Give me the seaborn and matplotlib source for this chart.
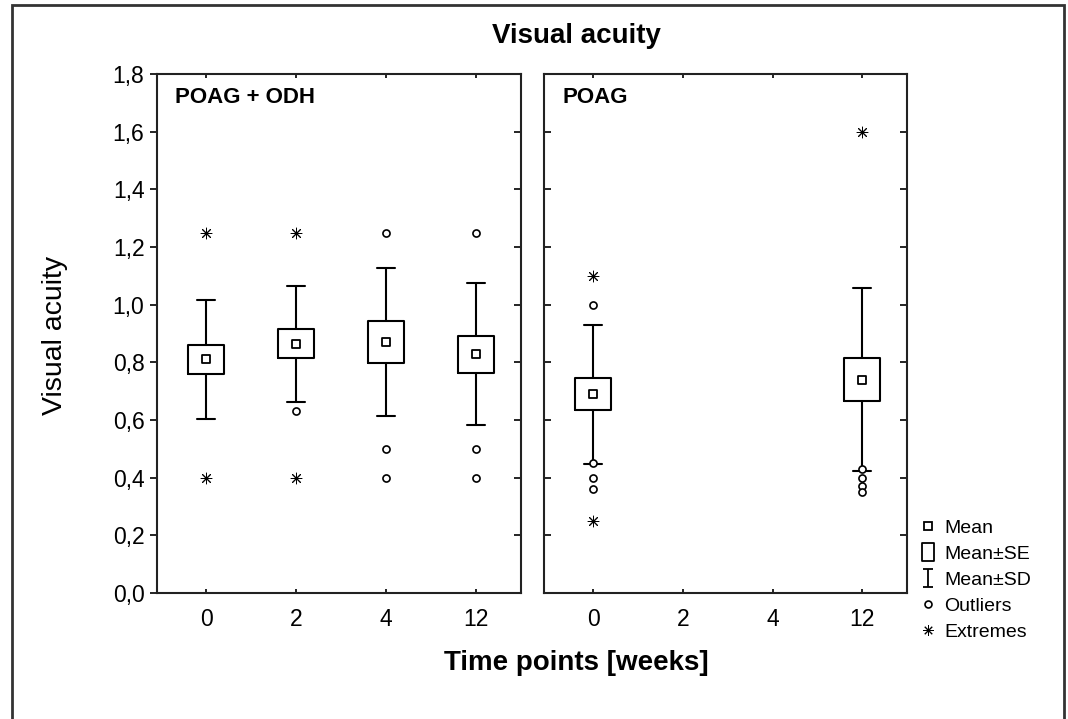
import pandas as pd
import matplotlib.pyplot as plt
import seaborn as sns
from matplotlib.lines import Line2D
from matplotlib.patches import Rectangle
from matplotlib.path import Path

sns.set_style("ticks")
plt.rcParams['font.family'] = ['Liberation Sans Narrow', 'Liberation Sans', 'DejaVu Sans']
plt.rcParams['text.color'] = 'black'
plt.rcParams['xtick.color'] = 'black'
plt.rcParams['ytick.color'] = 'black'
plt.rcParams['axes.labelcolor'] = 'black'

# Datos
time_labels = ["0", "2", "4", "12"]

# POAG + ODH
odh_times = ["0", "2", "4", "12"]
odh_mean = [0.810, 0.865, 0.870, 0.828]
odh_se = [0.050, 0.051, 0.072, 0.064]
odh_sd = [0.205, 0.201, 0.257, 0.247]
odh_out_time = ["2", "4", "4", "4", "12", "12", "12"]
odh_out_val = [0.63, 1.25, 0.50, 0.40, 1.25, 0.50, 0.40]
odh_ext_time = ["0", "0", "2", "2"]
odh_ext_val = [1.25, 0.40, 1.25, 0.40]

# POAG
poag_times = ["0", "12"]
poag_mean = [0.689, 0.740]
poag_se = [0.056, 0.075]
poag_sd = [0.241, 0.318]
poag_out_time = ["0", "0", "0", "0", "12", "12", "12", "12"]
poag_out_val = [1.00, 0.45, 0.40, 0.36, 0.43, 0.40, 0.37, 0.35]
poag_ext_time = ["0", "0", "12"]
poag_ext_val = [1.10, 0.25, 1.60]

W, H = 1068, 719
fig = plt.figure(figsize=(W / 100, H / 100), dpi=100)
ax1 = fig.add_axes([157 / W, 1 - 593 / H, (521 - 157) / W, (593 - 74) / H])
ax2 = fig.add_axes([544 / W, 1 - 593 / H, (907 - 544) / W, (593 - 74) / H])

tick_font = 16.5
asterisk = (8, 2, 0)


def panel(ax, times, mean, se, sd, out_t, out_v, ext_t, ext_v, label):
    pos = [time_labels.index(t) for t in times]
    stats = []
    for m, s_e, s_d in zip(mean, se, sd):
        stats.append(dict(med=m, q1=m - s_e, q3=m + s_e, whislo=m - s_d, whishi=m + s_d, fliers=[]))
    line = dict(color="black", linewidth=1.5)
    ax.bxp(stats, positions=pos, widths=0.4, capwidths=0.2, showfliers=False,
           boxprops=line, whiskerprops=line, capprops=line,
           medianprops=dict(linewidth=0), manage_ticks=False)

    df_mean = pd.DataFrame({"x": pos, "y": mean})
    df_out = pd.DataFrame({"x": [time_labels.index(t) for t in out_t], "y": out_v})
    df_ext = pd.DataFrame({"x": [time_labels.index(t) for t in ext_t], "y": ext_v})
    sns.scatterplot(data=df_mean, x="x", y="y", ax=ax, marker="s", s=36,
                    facecolor="white", edgecolor="black", linewidth=1.3, zorder=5)
    sns.scatterplot(data=df_out, x="x", y="y", ax=ax, marker="o", s=26,
                    facecolor="white", edgecolor="black", linewidth=1.2, zorder=5)
    sns.scatterplot(data=df_ext, x="x", y="y", ax=ax, marker=asterisk, s=60,
                    color="black", linewidth=0.7, zorder=5)

    ax.set_xlim(-0.55, 3.5)
    ax.set_ylim(0, 1.8)
    ax.set_xticks(range(len(time_labels)))
    ax.set_xticklabels(time_labels, fontsize=tick_font)
    ax.set_yticks([i / 5 for i in range(10)])
    ax.set_xlabel("")
    ax.set_ylabel("")
    for sp in ax.spines.values():
        sp.set_visible(True)
        sp.set_linewidth(1.5)
        sp.set_color("#222222")
    ax.tick_params(axis="x", direction="in", length=3, width=1.2, pad=11, bottom=True, top=True)
    ax.text(0.05, 0.955, label, transform=ax.transAxes, fontsize=16, fontweight="bold",
            ha="left", va="center")


panel(ax1, odh_times, odh_mean, odh_se, odh_sd, odh_out_time, odh_out_val,
      odh_ext_time, odh_ext_val, "POAG + ODH")
panel(ax2, poag_times, poag_mean, poag_se, poag_sd, poag_out_time, poag_out_val,
      poag_ext_time, poag_ext_val, "POAG")

# Eje y izquierdo con etiquetas, ticks hacia fuera; lado derecho hacia dentro
ax1.set_yticklabels([f"{v / 5:.1f}".replace(".", ",") for v in range(10)], fontsize=tick_font)
ax1.tick_params(axis="y", direction="out", length=5, width=1.2, pad=4, left=True, right=False)
sec = ax1.secondary_yaxis("right")
sec.tick_params(axis="y", direction="in", length=5, width=1.2, labelright=False)
sec.spines["right"].set_visible(False)
ax2.tick_params(axis="y", direction="in", length=5, width=1.2, left=True, right=True, labelleft=False)

# Textos generales
fig.text(576 / W, 1 - 36 / H, "Visual acuity", fontsize=20, fontweight="bold", ha="center", va="center")
fig.text(576 / W, 1 - 663 / H, "Time points [weeks]", fontsize=20, fontweight="bold", ha="center", va="center")
fig.text(55 / W, 1 - 335 / H, "Visual acuity", fontsize=20.5, rotation=90, ha="center", va="center",
         family=["Liberation Sans", "DejaVu Sans"])

# Leyenda
rect_path = Path([(-0.65, -1), (0.65, -1), (0.65, 1), (-0.65, 1), (-0.65, -1)],
                 [Path.MOVETO, Path.LINETO, Path.LINETO, Path.LINETO, Path.CLOSEPOLY])
ibeam_path = Path([(-0.5, -1), (0.5, -1), (0, -1), (0, 1), (-0.5, 1), (0.5, 1)],
                  [Path.MOVETO, Path.LINETO, Path.MOVETO, Path.LINETO, Path.MOVETO, Path.LINETO])
handles = [
    Line2D([], [], ls="none", marker="s", ms=6, mfc="white", mec="black", mew=1.3),
    Line2D([], [], ls="none", marker=rect_path, ms=13, mfc="none", mec="black", mew=1.3),
    Line2D([], [], ls="none", marker=ibeam_path, ms=13, mfc="none", mec="black", mew=1.3),
    Line2D([], [], ls="none", marker="o", ms=5, mfc="white", mec="black", mew=1.2),
    Line2D([], [], ls="none", marker=asterisk, ms=7.5, color="black", mew=0.7),
]
labels = ["Mean", "Mean±SE", "Mean±SD", "Outliers", "Extremes"]
fig.legend(handles, labels, loc="upper left", bbox_to_anchor=(918 / W, 1 - 519 / H),
           frameon=False, fontsize=14, handlelength=1.0, handletextpad=0.35,
           labelspacing=0.44, borderpad=0, borderaxespad=0)

# Marco exterior
fig.patches.append(Rectangle((12 / W, -0.02), (1064 - 12) / W, 1.02 - 5 / H, transform=fig.transFigure,
                             fill=False, edgecolor="#333333", linewidth=2))

fig.savefig("out.png", dpi=100, facecolor="white")
